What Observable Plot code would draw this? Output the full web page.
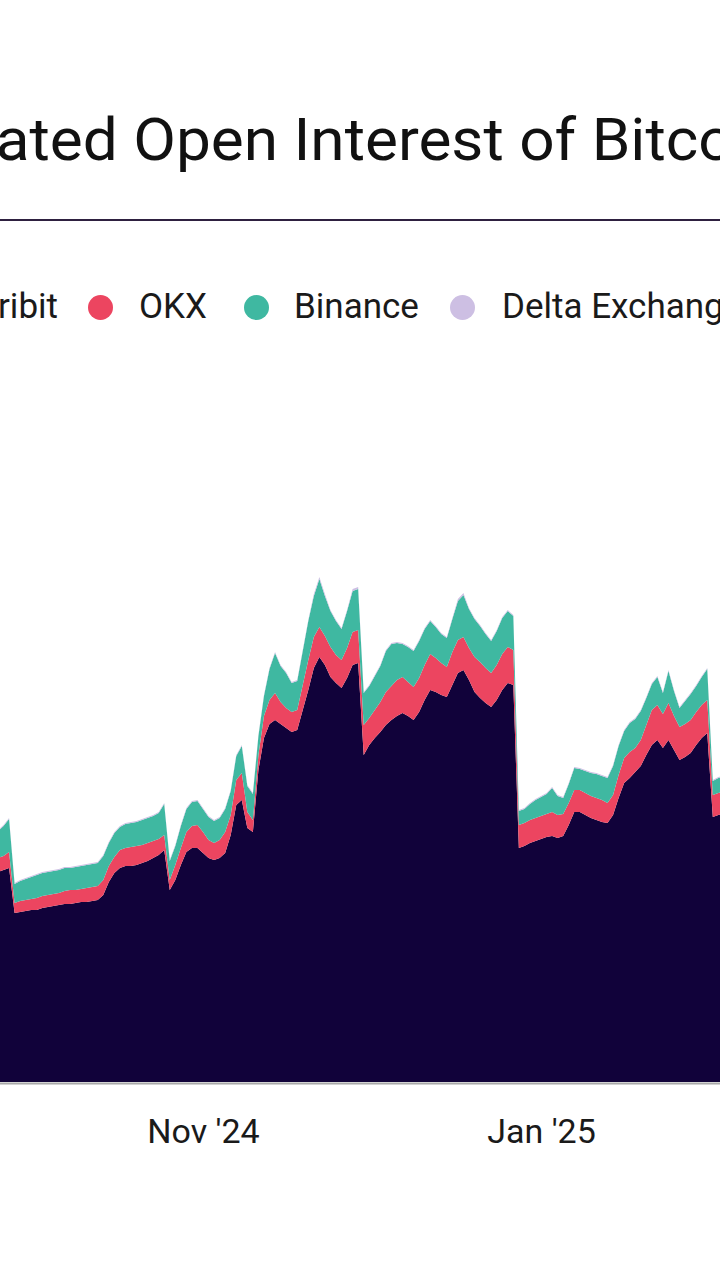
<!DOCTYPE html>
<html><head><meta charset="utf-8">
<script src="https://cdn.jsdelivr.net/npm/d3@7"></script>
<script src="https://cdn.jsdelivr.net/npm/@observablehq/plot@0.6"></script>
<style>
html,body{margin:0;padding:0;background:#fff;}
body{width:720px;height:1280px;overflow:hidden;position:relative;font-family:Roboto,"Noto Sans",sans-serif;color:#161616;}
#title{position:absolute;top:109.5px;left:0;white-space:nowrap;font-size:60px;line-height:60px;font-weight:400;transform-origin:0 0;color:#111;}
#rule{position:absolute;left:0;top:219px;width:720px;height:2px;background:#2e2040;}
.sw{position:absolute;width:25px;height:25px;border-radius:50%;top:294.5px;}
.lt{position:absolute;top:288.5px;font-size:35px;line-height:35px;white-space:nowrap;color:#1a1a1a;}
#chart{position:absolute;left:0;top:380px;}
</style></head>
<body>
<div id="title">Aggregated Open Interest of Bitcoin Options</div>
<div id="rule"></div>
<div id="legend"></div>
<div id="chart"></div>
<script>
// Exchanges, stacked bottom → top
const names = ["Deribit", "OKX", "Binance", "Delta Exchange"];
const colors = ["#11023a", "#ec4560", "#3fb8a1", "#cdbfe3"];
const tickDates = ["2024-11-01", "2025-01-01"];
const firstDay = "2024-09-25";
const lastDay = "2025-02-03";

// Daily open interest ($B, estimated), Sep 25 2024 → Feb 3 2025
const deribit = [21.0,21.2,21.4,16.9,17.0,17.1,
17.2,17.2,17.4,17.5,17.6,17.7,17.8,17.8,17.9,18.0,
18.0,18.1,18.2,18.7,20.0,20.9,21.4,21.6,21.6,21.7,
21.9,22.1,22.4,22.7,23.2,19.2,20.2,21.7,23.0,23.4,23.4,
22.9,22.4,22.2,22.4,22.9,24.7,27.7,28.2,25.4,25.0,
31.2,34.4,35.8,36.2,35.8,35.4,35.0,35.2,37.2,39.2,
41.4,42.5,41.7,40.5,39.9,39.4,40.4,41.7,41.9,32.7,
33.7,34.4,35.0,35.7,36.2,36.6,36.9,36.6,36.2,37.0,
38.2,39.2,39.0,38.7,38.5,39.7,40.9,41.2,40.2,39.0,
38.4,37.9,37.5,38.2,39.2,39.9,39.7,23.4,23.6,23.9,24.1,
24.3,24.5,24.6,24.4,24.6,25.7,27.0,27.0,26.7,26.4,
26.2,26.0,25.9,26.7,28.4,29.9,30.4,31.0,31.6,32.7,
33.7,34.2,33.4,34.2,33.2,32.2,32.5,32.9,33.7,34.4,34.9,
26.5,26.7,26.9];
const okx = [1.4,1.4,1.6,1.0,1.1,1.1,
1.1,1.2,1.2,1.2,1.2,1.2,1.3,1.4,1.3,1.3,
1.4,1.4,1.4,1.5,1.6,1.6,1.8,1.8,1.9,1.9,
1.8,1.8,1.7,1.6,1.5,1.0,1.5,1.7,2.0,2.2,2.3,
2.1,1.8,1.7,1.8,2.1,2.0,2.5,2.7,1.6,1.2,
1.5,2.2,2.4,2.7,2.2,2.0,2.0,2.0,2.5,3.0,
3.1,3.0,2.9,3.0,2.8,2.8,3.0,3.3,3.3,3.0,
2.7,2.8,3.0,3.3,3.4,3.6,3.6,3.4,3.3,3.4,
3.5,3.6,3.4,3.2,3.0,3.3,3.3,3.3,3.2,3.5,
3.6,3.5,3.4,3.5,3.6,3.6,3.5,2.3,2.3,2.3,2.3,
2.3,2.3,2.4,2.3,2.2,2.2,2.2,2.2,2.2,2.2,
2.2,2.2,2.0,2.0,2.3,2.5,2.6,2.4,2.6,3.0,
3.5,3.5,3.4,3.7,3.4,3.3,3.3,3.3,3.3,3.3,3.3,
2.2,2.2,2.2];
const binance = [2.7,3.0,3.3,1.9,2.0,2.1,
2.2,2.3,2.3,2.3,2.3,2.3,2.3,2.2,2.3,2.3,
2.3,2.3,2.3,2.4,2.3,2.4,2.3,2.4,2.4,2.4,
2.5,2.5,2.5,2.6,3.1,1.9,1.9,2.2,2.3,2.4,2.4,
2.3,2.3,2.2,2.2,2.3,2.4,2.4,2.7,2.6,2.6,
1.9,2.0,3.1,4.0,3.6,3.5,2.9,2.9,3.4,3.9,
4.1,4.8,4.0,3.6,3.4,3.1,3.7,4.1,4.1,3.2,
3.2,3.4,3.6,4.1,4.2,3.7,3.3,3.5,3.6,3.7,
3.6,3.3,3.1,2.9,2.9,3.3,3.9,4.2,3.9,3.8,
3.6,3.4,3.2,3.4,3.6,3.6,3.4,1.4,1.4,1.6,1.8,
1.9,2.0,2.4,1.9,1.6,1.9,2.2,2.1,2.2,2.3,
2.4,2.4,2.5,2.9,2.9,2.7,2.9,2.9,2.9,2.7,
2.6,2.8,2.1,3.2,2.5,1.9,2.3,2.6,2.6,2.8,3.1,
1.4,1.5,1.5];
const deltaEx = [0.1,0.1,0.1,0.1,0.1,0.1,
0.1,0.1,0.1,0.1,0.1,0.1,0.1,0.1,0.1,0.1,
0.1,0.1,0.1,0.1,0.1,0.1,0.1,0.1,0.1,0.1,
0.1,0.1,0.1,0.1,0.1,0.1,0.1,0.1,0.1,0.1,0.1,
0.1,0.1,0.1,0.1,0.1,0.1,0.1,0.1,0.1,0.1,
0.1,0.1,0.1,0.1,0.1,0.1,0.1,0.1,0.1,0.1,
0.2,0.2,0.2,0.1,0.1,0.1,0.1,0.2,0.2,0.1,
0.1,0.1,0.1,0.1,0.1,0.1,0.1,0.1,0.1,0.1,
0.1,0.1,0.1,0.1,0.1,0.1,0.2,0.2,0.1,0.1,
0.1,0.1,0.1,0.1,0.1,0.1,0.1,0.1,0.1,0.1,0.1,
0.1,0.1,0.1,0.1,0.1,0.1,0.1,0.1,0.1,0.1,
0.1,0.1,0.1,0.1,0.1,0.1,0.1,0.1,0.1,0.1,
0.1,0.1,0.1,0.1,0.1,0.1,0.1,0.1,0.1,0.1,0.1,
0.1,0.1,0.1];

const seriesValues = [deribit, okx, binance, deltaEx];
const dates = d3.utcDays(new Date(firstDay), d3.utcDay.offset(new Date(lastDay), 1));
const rows = [];
dates.forEach((d, i) => {
  names.forEach((n, k) => rows.push({date: d, exchange: n, value: seriesValues[k][i]}));
});

// Title: scale so "ated " starts at the left edge and "B" of Bitcoin sits at x≈592
(function(){
  const t = document.getElementById("title");
  const ctx = document.createElement("canvas").getContext("2d");
  ctx.font = "400 60px Roboto";
  const pre = ctx.measureText("Aggreg").width;
  const mid = ctx.measureText("ated Open Interest of ").width;
  const s = 596 / mid;
  t.style.transform = `scaleX(${s})`;
  t.style.left = (-pre * s - 4) + "px";
})();

// Legend
(function(){
  const lg = document.getElementById("legend");
  const cx = [null, 100, 256, 462];
  const tx = [null, 139, 294, 502];
  names.forEach((n, k) => {
    const lab = document.createElement("div");
    lab.className = "lt";
    lab.textContent = n;
    if (k === 0) { lab.style.right = (720 - 58) + "px"; }
    else {
      const sw = document.createElement("div");
      sw.className = "sw";
      sw.style.left = (cx[k] - 12.5) + "px";
      sw.style.background = colors[k];
      lg.appendChild(sw);
      lab.style.left = tx[k] + "px";
    }
    lg.appendChild(lab);
  });
})();

const chart = Plot.plot({
  width: 720, height: 800,
  marginLeft: 0, marginRight: 0, marginTop: 2, marginBottom: 98,
  style: {fontFamily: "Roboto, sans-serif", fontSize: "34px", color: "#1a1a1a", background: "transparent"},
  x: {type: "utc", domain: [new Date(Date.UTC(2024, 8, 25, 8, 44)), new Date(Date.UTC(2025, 1, 2, 7, 12))],
      ticks: tickDates.map(d => new Date(d)), tickFormat: d3.utcFormat("%b '%y"),
      tickSize: 0, tickPadding: 36, label: null},
  y: {domain: [0, 70], axis: null},
  color: {domain: names, range: colors},
  marks: [
    Plot.areaY(rows, Plot.stackY({x: "date", y: "value", fill: "exchange", order: null})),
    Plot.ruleY([0], {stroke: "#a8a8a8", strokeWidth: 2, dy: 1})
  ]
});
document.getElementById("chart").appendChild(chart);
</script>
</body></html>
